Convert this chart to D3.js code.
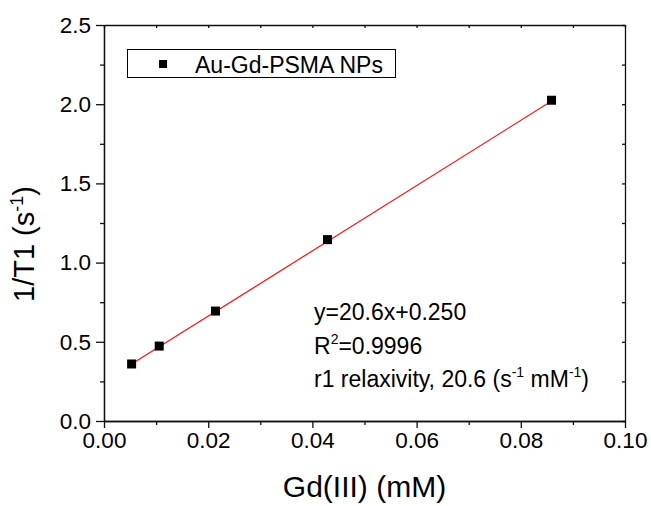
<html>
    <head>
        <script src='https://cdnjs.cloudflare.com/ajax/libs/d3/7.8.5/d3.min.js'></script>
        <style> body { margin: 0; background: white; } </style>
    </head>
    <body onload='init()'>
        <svg width=651 height=506></svg>
        <script>
            // plot frame in pixels
            var plotLeft = 104;
            var plotRight = 625;
            var plotTop = 25;
            var plotBottom = 421;
            var font = 'Liberation Sans, Arial, sans-serif';

            // data
            var gdConc = [0.0053, 0.0106, 0.0214, 0.0429, 0.0859];
            var invT1 = [0.36, 0.473, 0.694, 1.145, 2.025];
            var seriesName = 'Au-Gd-PSMA NPs';
            var xTicks = [0.00, 0.02, 0.04, 0.06, 0.08, 0.10];
            var xMinorTicks = [0.01, 0.03, 0.05, 0.07, 0.09];
            var yTicks = [0.0, 0.5, 1.0, 1.5, 2.0, 2.5];
            var yMinorTicks = [0.25, 0.75, 1.25, 1.75, 2.25];
            var fitSlope = 20.6;
            var fitIntercept = 0.250;
            var fitRange = [0.0053, 0.0859];

            function init() {
                var svg = d3.select('svg');

                var x = d3.scaleLinear().domain([0, 0.10]).range([plotLeft, plotRight]);
                var y = d3.scaleLinear().domain([0, 2.5]).range([plotBottom, plotTop]);

                /**
                 * Frame with outward ticks on bottom/left, small inward ticks on top/right
                 */
                svg.append('g')
                  .attr('transform', 'translate(0,' + plotBottom + ')')
                  .call(d3.axisBottom(x).tickValues(xTicks).tickSize(7).tickSizeOuter(0).tickPadding(4)
                    .tickFormat(d3.format('.2f')));
                svg.append('g')
                  .attr('transform', 'translate(0,' + plotBottom + ')')
                  .call(d3.axisBottom(x).tickValues(xMinorTicks).tickSize(4).tickSizeOuter(0).tickFormat(''));

                svg.append('g')
                  .attr('transform', 'translate(' + plotLeft + ',0)')
                  .call(d3.axisLeft(y).tickValues(yTicks).tickSize(8).tickSizeOuter(0).tickPadding(5)
                    .tickFormat(d3.format('.1f')));
                svg.append('g')
                  .attr('transform', 'translate(' + plotLeft + ',0)')
                  .call(d3.axisLeft(y).tickValues(yMinorTicks).tickSize(4).tickSizeOuter(0).tickFormat(''));

                svg.append('g')
                  .attr('transform', 'translate(0,' + plotTop + ')')
                  .call(d3.axisTop(x).tickValues(xTicks.concat(xMinorTicks)).tickSize(-3).tickSizeOuter(0).tickFormat(''));
                svg.append('g')
                  .attr('transform', 'translate(' + plotRight + ',0)')
                  .call(d3.axisRight(y).tickValues(yTicks.concat(yMinorTicks)).tickSize(-3).tickSizeOuter(0).tickFormat(''));

                svg.selectAll('.domain, .tick line')
                  .attr('stroke', '#111')
                  .attr('stroke-width', 1.3);

                svg.selectAll('.tick text')
                  .style('font-family', font)
                  .style('font-size', '22.5px')
                  .attr('fill', 'black');

                /**
                 * Axis titles
                 */
                svg.append('text')
                  .attr('x', (plotLeft + plotRight) / 2)
                  .attr('y', 497)
                  .attr('text-anchor', 'middle')
                  .style('font-family', font)
                  .style('font-size', '30px')
                  .text('Gd(III) (mM)');

                var yTitle = svg.append('text')
                  .attr('transform', 'translate(34,244)rotate(-90)')
                  .attr('text-anchor', 'middle')
                  .style('font-family', font)
                  .style('font-size', '29px');
                yTitle.append('tspan').text('1/T1 (s');
                yTitle.append('tspan').attr('dy', -11).style('font-size', '18px').text('-1');
                yTitle.append('tspan').attr('dy', 11).text(')');

                /**
                 * Fit line and data points
                 */
                var fitData = fitRange.map(function (v) { return [v, fitSlope * v + fitIntercept]; });
                svg.append('path')
                  .datum(fitData)
                  .attr('d', d3.line().x(function (d) { return x(d[0]); }).y(function (d) { return y(d[1]); }))
                  .style('fill', 'none')
                  .style('stroke', '#ff1010')
                  .style('stroke-width', 1.2);

                var points = gdConc.map(function (v, i) { return [v, invT1[i]]; });
                svg.append('g')
                  .selectAll('rect')
                  .data(points)
                  .enter()
                  .append('rect')
                  .attr('x', function (d) { return x(d[0]) - 4.5; })
                  .attr('y', function (d) { return y(d[1]) - 4.5; })
                  .attr('width', 9)
                  .attr('height', 9)
                  .style('fill', 'black');

                /**
                 * Legend
                 */
                svg.append('rect')
                  .attr('x', 127.5).attr('y', 49.5)
                  .attr('width', 268).attr('height', 28)
                  .style('fill', 'white')
                  .style('stroke', 'black')
                  .style('stroke-width', 1);
                svg.append('rect')
                  .attr('x', 159).attr('y', 60)
                  .attr('width', 8).attr('height', 8)
                  .style('fill', 'black');
                svg.append('text')
                  .attr('x', 195).attr('y', 73)
                  .style('font-family', font)
                  .style('font-size', '23px')
                  .text(seriesName);

                /**
                 * Fit annotation
                 */
                var note = svg.append('g')
                  .style('font-family', font)
                  .style('font-size', '23px');
                note.append('text').attr('x', 314).attr('y', 320).text('y=' + fitSlope + 'x+' + fitIntercept.toFixed(3));
                var r2 = note.append('text').attr('x', 314).attr('y', 354);
                r2.append('tspan').text('R');
                r2.append('tspan').attr('dy', -10).style('font-size', '14px').text('2');
                r2.append('tspan').attr('dy', 10).text('=0.9996');
                var r1 = note.append('text').attr('x', 314).attr('y', 387);
                r1.append('tspan').text('r1 relaxivity, ' + fitSlope + ' (s');
                r1.append('tspan').attr('dy', -10).style('font-size', '14px').text('-1');
                r1.append('tspan').attr('dy', 10).text('  mM');
                r1.append('tspan').attr('dy', -10).style('font-size', '14px').text('-1');
                r1.append('tspan').attr('dy', 10).text(')');
            }
        </script>
    </body>
</html>
